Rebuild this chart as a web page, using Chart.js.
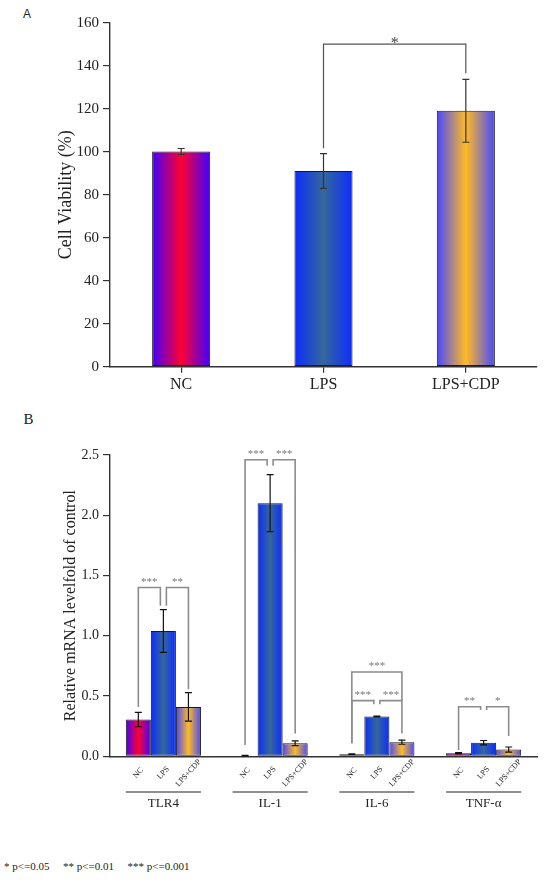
<!DOCTYPE html>
<html>
<head>
<meta charset="utf-8">
<script src="https://cdn.jsdelivr.net/npm/chart.js@4.4.1/dist/chart.umd.min.js"></script>
<style>
  html, body { margin: 0; padding: 0; background: #fff; }
  body { width: 550px; height: 882px; position: relative; overflow: hidden;
         font-family: 'Liberation Serif', 'Times New Roman', serif; color: #222; }
  .box { position: absolute; left: 0; width: 550px; }
  #boxA { top: 0; height: 400px; }
  #boxB { top: 400px; height: 420px; }
  .tag { position: absolute; line-height: 1; white-space: pre; }
  #tagA { left: 23px; top: 7px; font: 12px 'Liberation Sans', Arial, sans-serif; }
  #tagB { left: 23.5px; top: 412px; font-size: 15px; }
  .note { top: 861px; font-size: 11px; }
</style>
</head>
<body>
<div class="tag" id="tagA">A</div>
<div class="box" id="boxA"><canvas id="chartA"></canvas></div>
<div class="tag" id="tagB">B</div>
<div class="box" id="boxB"><canvas id="chartB"></canvas></div>
<div class="tag note" style="left:4px">* p&lt;=0.05</div>
<div class="tag note" style="left:63px">** p&lt;=0.01</div>
<div class="tag note" style="left:127.5px">*** p&lt;=0.001</div>

<script>
const SERIF = "'Liberation Serif', 'Times New Roman', serif";

// Panel A: cell viability
const groupsA = ['NC', 'LPS', 'LPS+CDP'];
const viability = [100.1, 91.0, 119.0];
const viabilitySd = [1.4, 8.1, 14.6];
// [group, fromBar, toBar, yFrom, yTop, yTo, label]
const bracketsA = [[0, 1, 2, 101.6, 150, 136.5, '*']];

// Panel B: relative mRNA level
const genes = ['TLR4', 'IL-1', 'IL-6', 'TNF-α'];
const treatments = ['NC', 'LPS', 'LPS+CDP'];
const ncLevel = [0.305, 0.005, 0.018, 0.025];
const ncSd = [0.06, 0.002, 0.003, 0.005];
const lpsLevel = [1.04, 2.10, 0.33, 0.113];
const lpsSd = [0.177, 0.237, 0.004, 0.018];
const cdpLevel = [0.41, 0.108, 0.117, 0.056];
const cdpSd = [0.118, 0.02, 0.017, 0.021];
const bracketsB = [
  [0, 0, 1, 0.41, 1.40, 1.25, '***'],
  [0, 1, 2, 1.25, 1.40, 0.556, '**'],
  [1, 0, 1, 0.094, 2.46, 2.41, '***'],
  [1, 1, 2, 2.41, 2.46, 0.19, '***'],
  [2, 0, 2, 0.108, 0.70, 0.46, '***'],
  [2, 0, 1, 0.108, 0.462, 0.431, '***'],
  [2, 1, 2, 0.431, 0.462, 0.19, '***'],
  [3, 0, 1, 0.053, 0.411, 0.384, '**'],
  [3, 1, 2, 0.384, 0.411, 0.168, '*']
];

// edge / centre colours of the horizontal gradients
const fills = [['#4200ff', '#ff0030'], ['#0b2dff', '#36679a'], ['#4848ff', '#ffbb22']];

function barFill(catPct, nBars) {
  return function (c) {
    const xs = c.chart.scales.x;
    if (c.dataIndex === undefined || !xs) return '#3040ff';
    const [edge, mid] = fills[nBars > 1 ? c.datasetIndex : c.dataIndex];
    const cat = xs.width / xs.getLabels().length;
    const w = cat * catPct / nBars;
    const left = xs.getPixelForValue(c.dataIndex) - cat * catPct / 2 + (nBars > 1 ? c.datasetIndex : 0) * w;
    if (!isFinite(left) || !isFinite(w) || w <= 0) return edge;
    const g = c.chart.ctx.createLinearGradient(left, 0, left + w, 0);
    g.addColorStop(0, edge);
    g.addColorStop(0.5, mid);
    g.addColorStop(1, edge);
    return g;
  };
}

function barOf(chart, g, k) {
  return chart.data.datasets.length === 1
    ? chart.getDatasetMeta(0).data[k]
    : chart.getDatasetMeta(k).data[g];
}

const errorBars = {
  id: 'errorBars',
  afterDatasetsDraw(chart, args, o) {
    const { ctx } = chart, y = chart.scales.y;
    ctx.save();
    ctx.strokeStyle = o.color;
    ctx.lineWidth = o.width;
    chart.data.datasets.forEach((ds, d) => {
      chart.getDatasetMeta(d).data.forEach((bar, i) => {
        const top = y.getPixelForValue(ds.data[i] + ds.sd[i]);
        const bot = y.getPixelForValue(Math.max(0, ds.data[i] - ds.sd[i]));
        ctx.beginPath();
        ctx.moveTo(bar.x, top); ctx.lineTo(bar.x, bot);
        ctx.moveTo(bar.x - o.cap, top); ctx.lineTo(bar.x + o.cap, top);
        ctx.moveTo(bar.x - o.cap, bot); ctx.lineTo(bar.x + o.cap, bot);
        ctx.stroke();
      });
    });
    ctx.restore();
  }
};

const sigBrackets = {
  id: 'sigBrackets',
  afterDatasetsDraw(chart, args, o) {
    const { ctx } = chart, y = chart.scales.y;
    ctx.save();
    ctx.strokeStyle = o.color;
    ctx.lineWidth = o.width;
    ctx.fillStyle = o.textColor;
    ctx.font = o.font;
    ctx.textAlign = 'center';
    ctx.textBaseline = 'alphabetic';
    o.items.forEach(([g, a, b, ya, top, yb, label]) => {
      let xa = barOf(chart, g, a).x, xb = barOf(chart, g, b).x;
      if (a === 1) xa += o.gap;
      if (b === 1) xb -= o.gap;
      const pt = y.getPixelForValue(top);
      ctx.beginPath();
      ctx.moveTo(xa, y.getPixelForValue(ya));
      ctx.lineTo(xa, pt);
      ctx.lineTo(xb, pt);
      ctx.lineTo(xb, y.getPixelForValue(yb));
      ctx.stroke();
      ctx.fillText(label, (xa + xb) / 2, pt + o.lift);
    });
    ctx.restore();
  }
};

// small rotated treatment names and the line under each gene group
const groupLabels = {
  id: 'groupLabels',
  afterDraw(chart, args, o) {
    const { ctx, chartArea } = chart;
    const sets = chart.data.datasets;
    ctx.save();
    ctx.font = o.font;
    ctx.fillStyle = o.color;
    ctx.textAlign = 'center';
    ctx.textBaseline = 'middle';
    sets.forEach((ds, d) => {
      chart.getDatasetMeta(d).data.forEach(bar => {
        ctx.save();
        ctx.translate(bar.x, chartArea.bottom + o.labelOffset);
        ctx.rotate(o.angle);
        ctx.fillText(ds.label, 0, 0);
        ctx.restore();
      });
    });
    const first = chart.getDatasetMeta(0).data;
    const last = chart.getDatasetMeta(sets.length - 1).data;
    ctx.strokeStyle = o.color;
    ctx.lineWidth = o.lineWidth;
    first.forEach((bar, i) => {
      const yy = chartArea.bottom + o.lineOffset;
      ctx.beginPath();
      ctx.moveTo(bar.x - bar.width / 2, yy);
      ctx.lineTo(last[i].x + last[i].width / 2, yy);
      ctx.stroke();
    });
    ctx.restore();
  }
};

const axisLine = { color: '#333', width: 1.4 };
const tickMarks = { drawOnChartArea: false, color: '#333', lineWidth: 1.2 };

// ---- Panel A ----
const catPctA = 0.408;
new Chart(document.getElementById('chartA'), {
  type: 'bar',
  data: {
    labels: groupsA,
    datasets: [{
      label: 'Cell Viability',
      data: viability,
      sd: viabilitySd,
      backgroundColor: barFill(catPctA, 1),
      borderColor: '#1a1a1a',
      borderWidth: 1,
      borderSkipped: false,
      categoryPercentage: catPctA,
      barPercentage: 1
    }]
  },
  options: {
    responsive: true,
    maintainAspectRatio: false,
    animation: false,
    layout: { padding: { top: 22.7, right: 13, left: 0, bottom: 0 } },
    plugins: {
      legend: { display: false },
      tooltip: { enabled: false },
      errorBars: { color: '#333', width: 1.2, cap: 3.5 },
      sigBrackets: { items: bracketsA, color: '#555', width: 1.2, textColor: '#444',
                     font: '16px ' + SERIF, gap: 0, lift: 3.5 }
    },
    scales: {
      x: {
        grid: { ...tickMarks, offset: false, tickLength: 6 },
        border: axisLine,
        ticks: { color: '#222', padding: 2, font: { family: SERIF, size: 16 } },
        afterFit: s => { s.height = 33.3; }
      },
      y: {
        min: 0, max: 160,
        grid: { ...tickMarks, tickLength: 7 },
        border: axisLine,
        ticks: { stepSize: 20, color: '#222', padding: 4, font: { family: SERIF, size: 15 } },
        title: { display: true, text: 'Cell Viability (%)', color: '#222',
                 font: { family: SERIF, size: 18 }, padding: { top: 55, bottom: 0 } },
        afterFit: s => { s.width = 110; }
      }
    }
  },
  plugins: [errorBars, sigBrackets]
});

// ---- Panel B ----
const catPctB = 0.704;
const seriesB = [[ncLevel, ncSd], [lpsLevel, lpsSd], [cdpLevel, cdpSd]];
new Chart(document.getElementById('chartB'), {
  type: 'bar',
  data: {
    labels: genes,
    datasets: seriesB.map(([vals, sd], d) => ({
      label: treatments[d],
      data: vals,
      sd: sd,
      backgroundColor: barFill(catPctB, 3),
      borderColor: '#1a1a1a',
      borderWidth: 1,
      borderSkipped: false,
      categoryPercentage: catPctB,
      barPercentage: 1
    }))
  },
  options: {
    responsive: true,
    maintainAspectRatio: false,
    animation: false,
    layout: { padding: { top: 55, right: 13, left: 0, bottom: 0 } },
    plugins: {
      legend: { display: false },
      tooltip: { enabled: false },
      errorBars: { color: '#111', width: 1.2, cap: 3.5 },
      sigBrackets: { items: bracketsB, color: '#8c8c8c', width: 1.6, textColor: '#777',
                     font: '11px ' + SERIF, gap: 3, lift: -3 },
      groupLabels: { font: '8px ' + SERIF, color: '#222', angle: -48 * Math.PI / 180,
                     labelOffset: 16.7, lineOffset: 35.7, lineWidth: 1.2 }
    },
    scales: {
      x: {
        grid: { display: false, drawTicks: false },
        border: axisLine,
        ticks: { color: '#222', padding: 39, maxRotation: 0, font: { family: SERIF, size: 13 } },
        afterFit: s => { s.height = 63.7; }
      },
      y: {
        min: 0, max: 2.5,
        grid: { ...tickMarks, tickLength: 7 },
        border: axisLine,
        ticks: { stepSize: 0.5, color: '#222', padding: 4, font: { family: SERIF, size: 14 },
                 callback: v => v.toFixed(1) },
        title: { display: true, text: 'Relative mRNA levelfold of control', color: '#222',
                 font: { family: SERIF, size: 16 }, padding: { top: 61, bottom: 0 } },
        afterFit: s => { s.width = 110; }
      }
    }
  },
  plugins: [errorBars, sigBrackets, groupLabels]
});
</script>
</body>
</html>
